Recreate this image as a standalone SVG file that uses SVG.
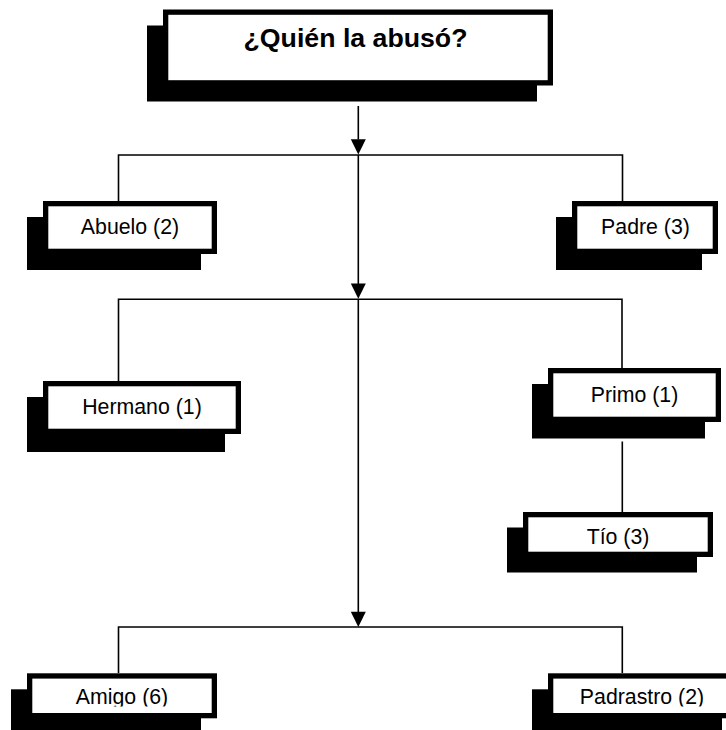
<svg xmlns="http://www.w3.org/2000/svg" width="726" height="730" viewBox="0 0 726 730">
<style>
.shadow{fill:#000}
.box{fill:#fff;stroke:#000;stroke-width:5.3}
.lbl{font-family:"Liberation Sans",Arial,sans-serif;font-size:21.3px;fill:#000;text-anchor:middle}
.title{font-family:"Liberation Sans",Arial,sans-serif;font-size:26.7px;font-weight:bold;fill:#000;text-anchor:middle}
.conn{fill:none;stroke:#000;stroke-width:1.6}
</style>
<defs>
<marker id="arr" markerUnits="userSpaceOnUse" markerWidth="16" markerHeight="16" viewBox="0 0 16 16" refX="8" refY="15" orient="auto-start-reverse">
<path d="M0.5,0.5 L15.5,0.5 L8,15 Z" fill="#000" transform="rotate(-90 8 8)"/>
</marker>
<clipPath id="clipBottom"><rect x="0" y="660" width="726" height="46.5"/></clipPath>
</defs>
<rect width="726" height="730" fill="#fff"/>
<g id="connectors">
<path class="conn" d="M358.3,106 V139.5"/>
<polygon points="350.8,139.3 365.8,139.3 358.3,154.5" fill="#000"/>
<path class="conn" d="M358.3,155 V284"/>
<polygon points="350.8,283.5 365.8,283.5 358.3,298.8" fill="#000"/>
<path class="conn" d="M358.3,299.3 V612"/>
<polygon points="350.8,611.7 365.8,611.7 358.3,627" fill="#000"/>
<path class="conn" d="M118.5,201 V155 H622.5 V201"/>
<path class="conn" d="M118.5,381 V299.3 H622 V368"/>
<path class="conn" d="M622.3,441.5 V512"/>
<path class="conn" d="M118.5,673 V627 H622.3 V673"/>
</g>
<g id="title">
<rect class="shadow" x="147" y="25.5" width="390" height="76"/>
<rect class="box" x="165.65" y="12.15" width="384.7" height="70.7"/>
<text class="title" x="355.5" y="47">¿Quién la abusó?</text>
</g>
<g id="abuelo">
<rect class="shadow" x="27" y="217" width="174" height="53"/>
<rect class="box" x="45.65" y="203.65" width="168.7" height="47.7"/>
<text class="lbl" x="130" y="233.5">Abuelo (2)</text>
</g>
<g id="padre">
<rect class="shadow" x="556" y="217" width="146" height="53"/>
<rect class="box" x="574.65" y="203.65" width="140.7" height="47.7"/>
<text class="lbl" x="645.5" y="233.5">Padre (3)</text>
</g>
<g id="hermano">
<rect class="shadow" x="27" y="397" width="198" height="55"/>
<rect class="box" x="45.65" y="383.65" width="192.7" height="47.7"/>
<text class="lbl" x="142" y="413.5">Hermano (1)</text>
</g>
<g id="primo">
<rect class="shadow" x="532" y="384" width="173" height="54.5"/>
<rect class="box" x="550.65" y="370.65" width="167.7" height="48.7"/>
<text class="lbl" x="634.5" y="401.8">Primo (1)</text>
</g>
<g id="tio">
<rect class="shadow" x="507" y="527.5" width="190" height="45"/>
<rect class="box" x="525.65" y="514.65" width="184.7" height="39.7"/>
<text class="lbl" x="618" y="543.5">Tío (3)</text>
</g>
<g id="amigo">
<rect class="shadow" x="11" y="689.3" width="190" height="45"/>
<rect class="box" x="29.65" y="675.95" width="184.7" height="39.7"/>
<text class="lbl" x="122" y="704.3" clip-path="url(#clipBottom)">Amigo (6)</text>
</g>
<g id="padrastro">
<rect class="shadow" x="532" y="689.3" width="190" height="45"/>
<rect class="box" x="550.65" y="675.95" width="184.7" height="39.7"/>
<text class="lbl" x="642" y="704.3" clip-path="url(#clipBottom)">Padrastro (2)</text>
</g>
</svg>
